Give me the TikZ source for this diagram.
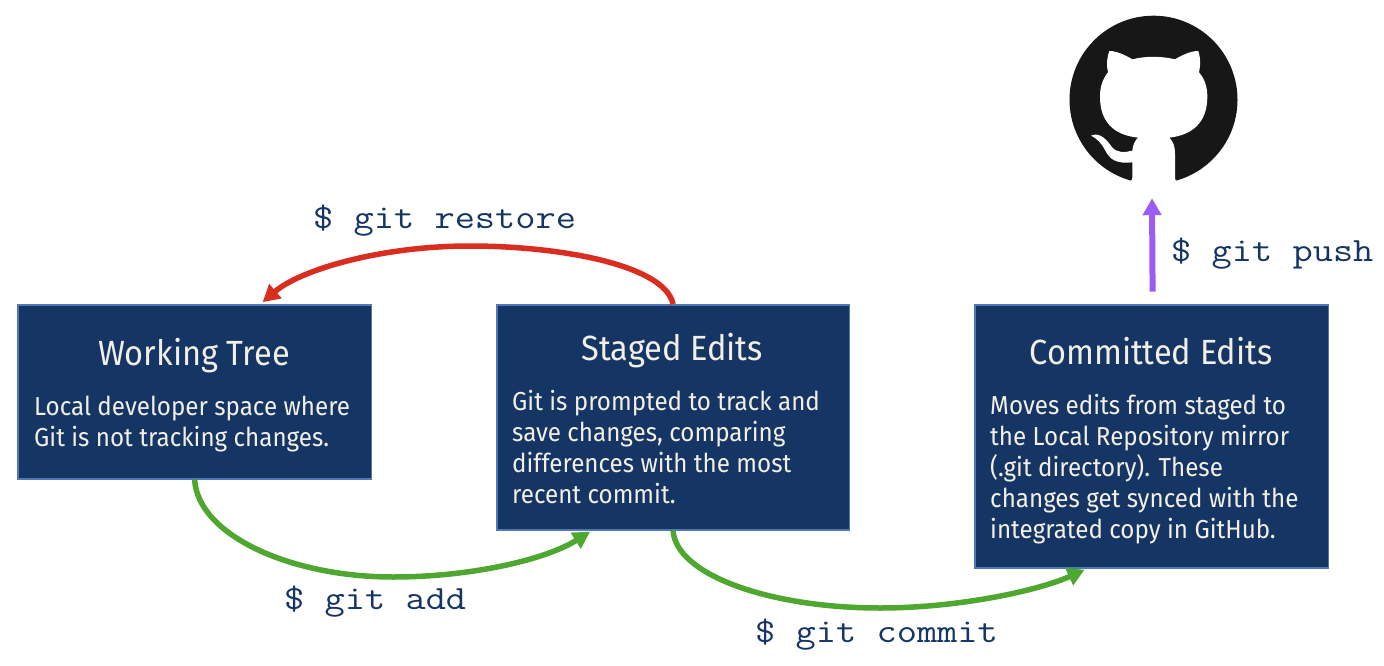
\documentclass[tikz,border=0pt]{standalone}
\usepackage{fontspec}
\setmainfont{Fira Sans}[FakeStretch=0.93]
\setmonofont{Latin Modern Mono}[FakeStretch=1.155]
\usetikzlibrary{arrows.meta,calc}
\definecolor{boxfill}{HTML}{153564}
\definecolor{boxline}{HTML}{4F78B5}
\definecolor{boxtext}{HTML}{F2EFE6}
\definecolor{cmdtext}{HTML}{153564}
\definecolor{gitgreen}{HTML}{4EA72E}
\definecolor{gitred}{HTML}{D92D20}
\definecolor{gitpurple}{HTML}{9B5CF6}
\definecolor{logoblack}{HTML}{181717}
\tikzset{
  stagebox/.style={draw=boxline,fill=boxfill,line width=1.5pt,inner sep=0pt,minimum width=#1,anchor=north west},
  titletext/.style={text=boxtext,font=\fontsize{35}{40}\selectfont,inner sep=0pt,anchor=base},
  bodytext/.style={text=boxtext,font=\fontsize{26}{31}\selectfont,inner sep=0pt,anchor=north west,align=left},
  cmd/.style={text=cmdtext,font=\ttfamily\fontsize{34}{38}\selectfont,inner sep=0pt,anchor=base west},
  flow/.style={line width=5.5pt,-{Triangle[length=17pt,width=18pt]}},
}
\begin{document}
\begin{tikzpicture}[x=1pt,y=-1pt]
\useasboundingbox (0,0) rectangle (1384,666);
\node[stagebox=353.3pt,minimum height=174pt] (wt) at (17.2,304.2) {};
\node[stagebox=352.3pt,minimum height=225pt] (se) at (496.2,304.2) {};
\node[stagebox=353.3pt,minimum height=263pt] (ce) at (974.2,304.2) {};
\node[titletext] (wtt) at (194,365) {Working Tree};
\node[titletext] (set) at (672,360) {Staged Edits};
\node[titletext] (cet) at (1151,364) {Committed Edits};
\node[bodytext] (wtb) at (34,396) {Local developer space where\\Git is not tracking changes.};
\node[bodytext] (seb) at (512,390) {Git is prompted to track and\\save changes, comparing\\differences with the most\\recent commit.};
\node[bodytext] (ceb) at (990,394.3) {Moves edits from staged to\\the Local Repository mirror\\(.git directory). These\\changes get synced with the\\integrated copy in GitHub.};
\node[circle,fill=logoblack,minimum size=168pt,inner sep=0pt] (logo) at (1153.5,99.7) {};
\begin{scope}[shift={(1050,0)},x=0.3333pt,y=-0.3333pt]
\fill[white] (178,153) .. controls (200,153) and (225,165) .. (247,178)
 .. controls (285,168) and (335,168) .. (375,178)
 .. controls (397,165) and (422,153) .. (445,153)
 .. controls (452,175) and (452,195) .. (447,217)
 .. controls (465,238) and (472,262) .. (472,290)
 .. controls (472,365) and (430,405) .. (358,413)
 .. controls (370,425) and (375,440) .. (375,460)
 -- (375,533) .. controls (375,543) and (382,546) .. (392,544)
 -- (310,575) -- (230,544)
 .. controls (240,546) and (247,543) .. (247,533)
 -- (247,487) .. controls (200,492) and (180,480) .. (165,450)
 .. controls (155,430) and (140,415) .. (123,407)
 .. controls (150,395) and (170,420) .. (185,440)
 .. controls (200,460) and (225,458) .. (247,452)
 .. controls (248,435) and (255,422) .. (264,413)
 .. controls (190,405) and (150,365) .. (150,290)
 .. controls (150,262) and (157,238) .. (174,217)
 .. controls (169,195) and (170,175) .. (178,153) -- cycle;
\end{scope}
\coordinate (pushstart) at ($(ce.north)+(1,-12.5)$);
\coordinate (pushend) at ($(logo.south)+(-1.5,14.3)$);
\draw[flow,gitpurple,line width=6pt] (pushstart) -- (pushend);
\coordinate (addend) at ($(se.south)+(-83,1)$);
\draw[flow,gitgreen] (wt.south) .. controls (198,535) and (290,577) .. (393,577) .. controls (470,577) and (545,560) .. (addend);
\coordinate (comend) at ($(ce.south)+(-67,1)$);
\draw[flow,gitgreen] (se.south) .. controls (676,575) and (770,608) .. (880,608) .. controls (960,608) and (1040,590) .. (comend);
\coordinate (resend) at ($(wt.north)+(68,-2)$);
\draw[flow,gitred] (se.north) .. controls (665,265) and (560,246) .. (470,246) .. controls (380,246) and (300,270) .. (resend);
\node[cmd] (restore) at (313,228) {\$ git restore};
\node[cmd] (push) at (1171,261) {\$ git push};
\node[cmd] (add) at (284,609) {\$ git add};
\node[cmd] (commit) at (755,642) {\$ git commit};
\end{tikzpicture}
\end{document}
